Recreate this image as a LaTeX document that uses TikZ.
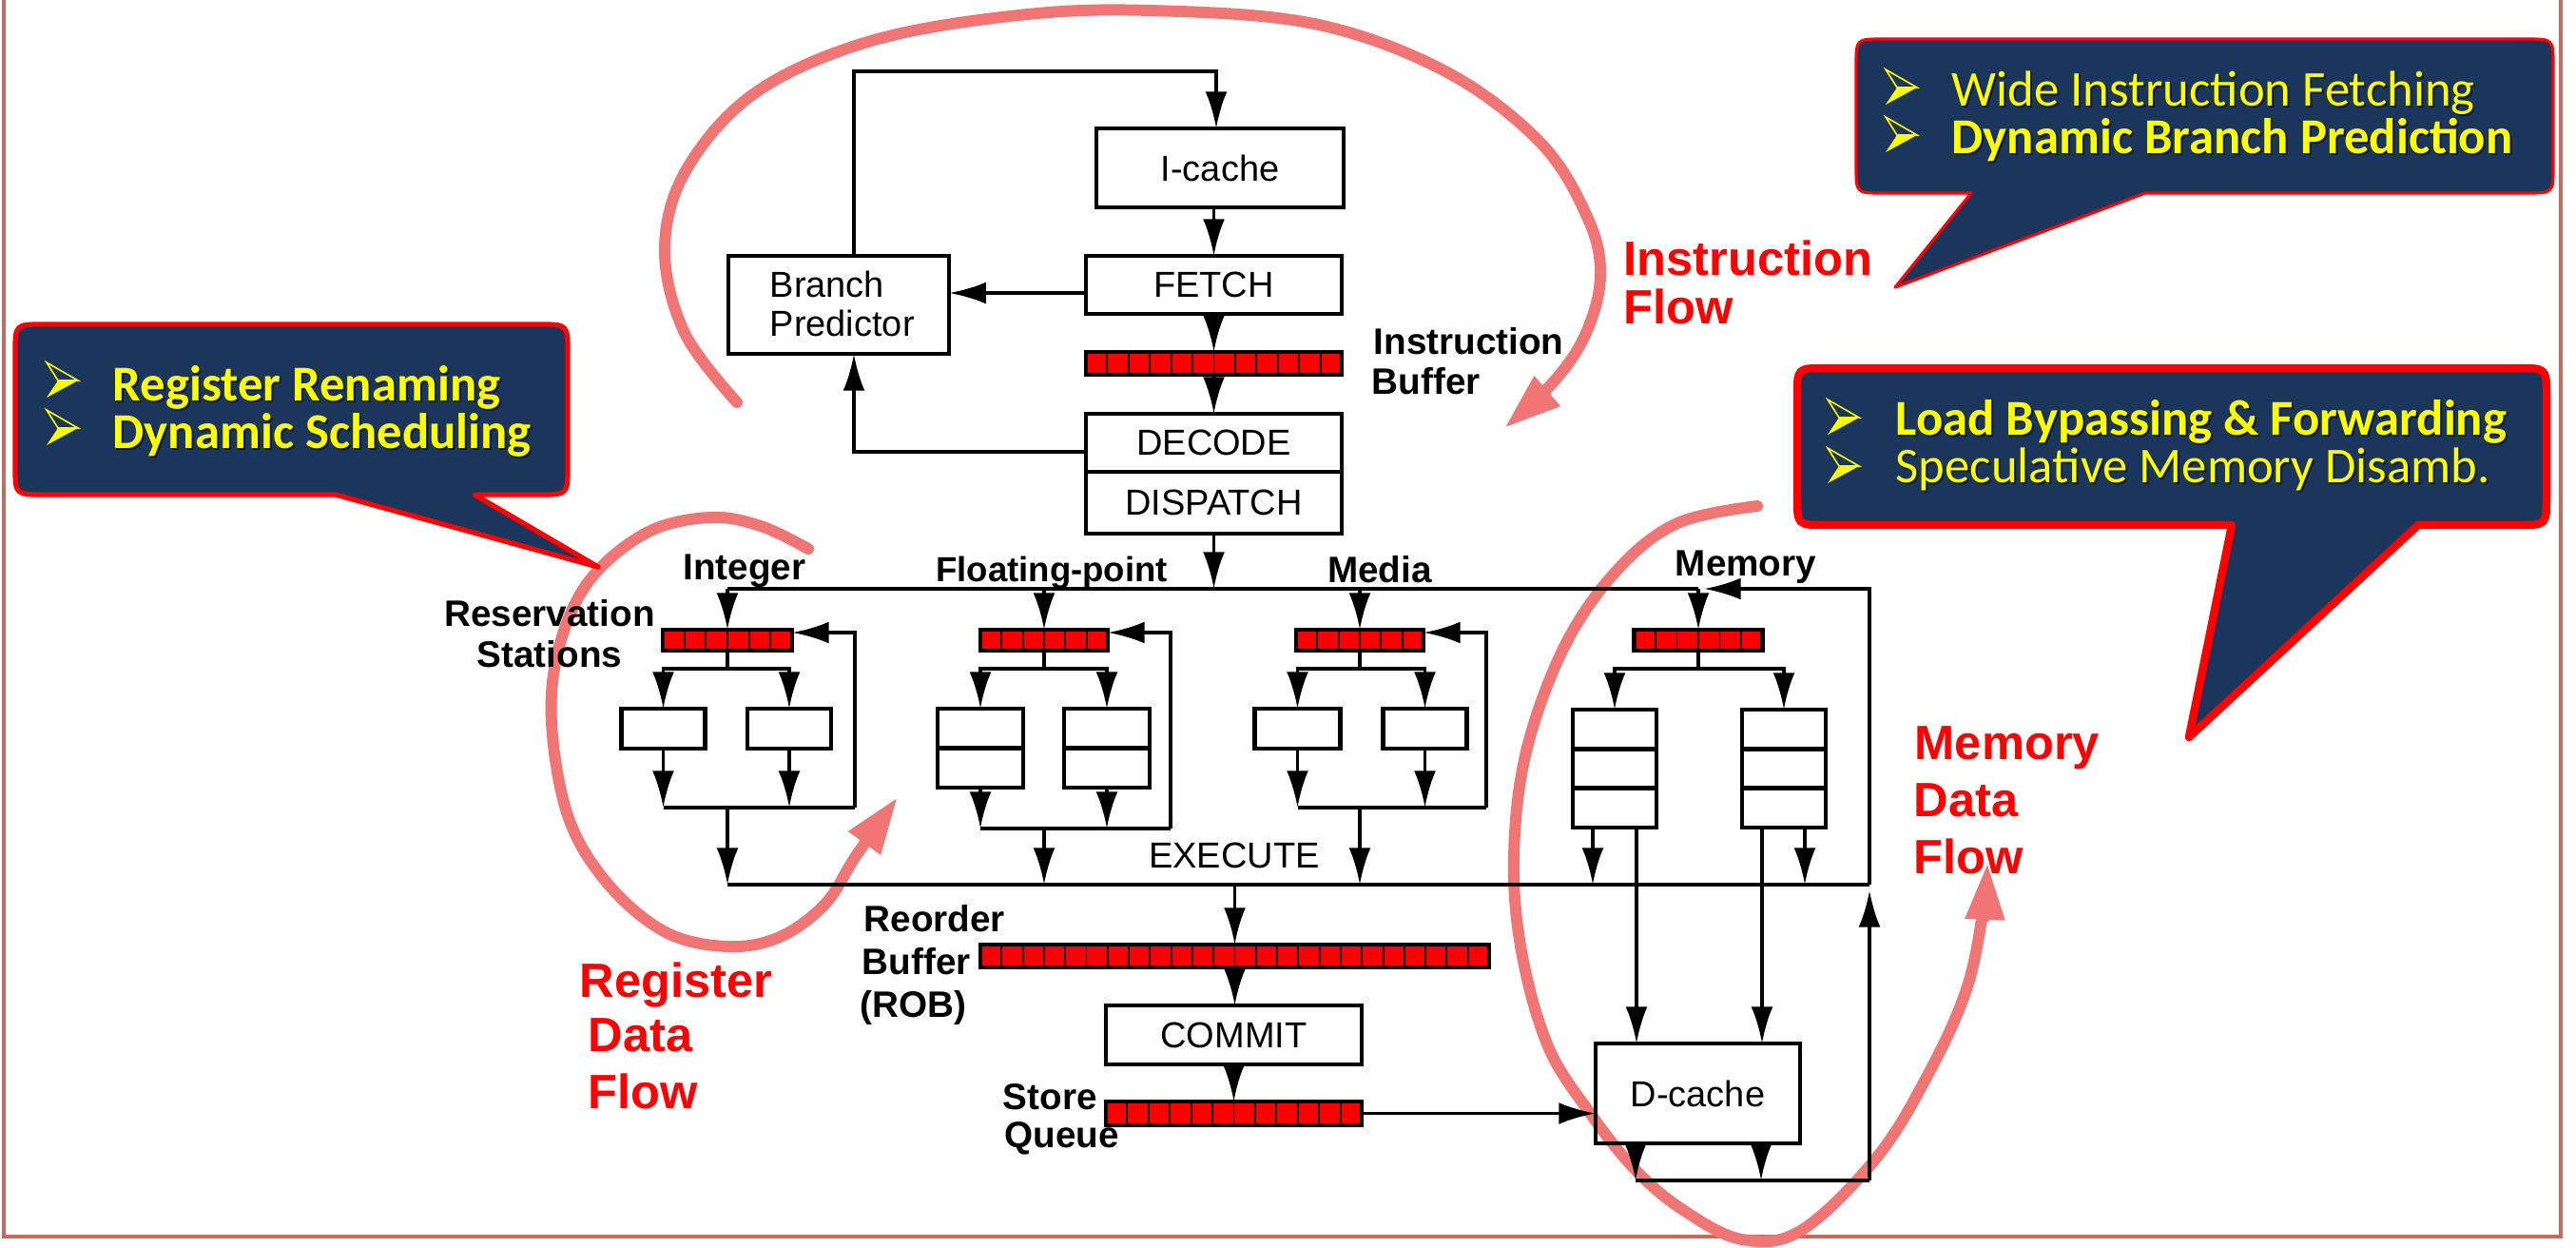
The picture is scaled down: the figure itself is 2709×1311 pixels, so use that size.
\documentclass[tikz,border=0pt]{standalone}
\usepackage{fontspec}
\setmainfont{Liberation Sans}
\newfontfamily\calibri{Carlito}
\usetikzlibrary{arrows.meta,calc}
\definecolor{navy}{RGB}{27,54,93}
\definecolor{calred}{RGB}{255,0,0}
\definecolor{arcpink}{RGB}{240,118,118}
\definecolor{slideb}{RGB}{196,108,98}
\definecolor{cellred}{RGB}{250,0,0}
\definecolor{cyellow}{RGB}{255,255,0}

\newcommand{\cellbuf}[6]{%
  \node[bufbox, minimum width=#4*0.01cm, minimum height=#5*0.01cm] (#1) at (#2,#3) {};
  \foreach \k in {1,...,#6} {
    \draw[line width=0.55pt] ($(#1.north west)!{\k/(#6+1)}!(#1.north east)$) -- ($(#1.south west)!{\k/(#6+1)}!(#1.south east)$);
  }
}
\newcommand{\bul}[2]{%
  \fill[cyellow] ({#1+12},{#2+19}) -- ({#1+33},{#2+19}) -- (#1,{#2+37}) -- cycle;
  \draw[cyellow, line width=0.45pt, line join=miter] ({#1+12},{#2+19}) -- (#1,#2) -- ({#1+33},{#2+19}) -- cycle;
}
\newcommand{\ctxt}[5]{%
  \node[ctext, text=black, opacity=0.55] (#1s) at ({#2+2},{#3+2}) {#4#5};
  \node[ctext] (#1) at (#2,#3) {#4#5};
}

\tikzset{
 box/.style={draw, line width=1.3pt, inner sep=0pt, outer sep=0pt, font=\fontsize{10.8}{13}\selectfont},
 unit/.style={draw, line width=1.3pt, inner sep=0pt, outer sep=0pt},
 bufbox/.style={draw, fill=cellred, line width=1.3pt, inner sep=0pt, outer sep=0pt},
 ln/.style={line width=1.1pt},
 arr/.style={line width=1.1pt, -{Latex[length=11pt,width=6.5pt]}},
 lbl/.style={font=\bfseries\fontsize{11}{13}\selectfont, inner sep=0pt},
 rlbl/.style={font=\fontsize{10.8}{13}\selectfont, inner sep=0pt},
 flbl/.style={text=red, font=\bfseries\fontsize{14.4}{17}\selectfont, inner sep=0pt, anchor=base west},
 flow/.style={draw=arcpink, line width=3.4pt, line cap=round, line join=round, -{Triangle[length=17pt,width=11pt]}},
 ctext/.style={anchor=base west, inner sep=0pt, text=cyellow, font=\calibri\fontsize{15}{17}\selectfont},
}

\begin{document}
\begin{tikzpicture}[x=0.01cm, y=-0.01cm]
\useasboundingbox (0,0) rectangle (2709,1311);

% slide border
\draw[slideb, line width=0.9pt] (4,-20) -- (4,1300) -- (2693,1300) -- (2693,-20);

% ---------- flow arcs (behind) ----------
\draw[flow] plot[smooth, tension=0.6] coordinates {(775,423) (720,350) (699,262) (722,178) (795,97) (916,43) (1071,16) (1209,11) (1382,25) (1520,75) (1620,150) (1670,230) (1683,290) (1668,350) (1635,400) (1582,450)};
\draw[flow] plot[smooth, tension=0.6] coordinates {(850,577) (800,553) (746,544) (680,560) (620,610) (588,680) (580,760) (598,860) (640,930) (700,980) (765,995) (820,985) (868,950) (900,900) (944,838)};
\draw[flow] plot[smooth, tension=0.6] coordinates {(1848,532) (1764,550) (1700,600) (1645,680) (1605,790) (1592,900) (1600,1000) (1628,1100) (1672,1170) (1720,1230) (1770,1272) (1832,1303) (1895,1293) (1975,1215) (2030,1125) (2068,1040) (2085,960) (2090,907)};

% ---------- front end ----------
\node[box, minimum width=2.60cm, minimum height=0.83cm] (icache) at (1283,176.5) {I-cache};
\node[box, minimum width=2.69cm, minimum height=0.61cm] (fetch) at (1276.5,299.5) {FETCH};
\node[box, minimum width=2.32cm, minimum height=1.03cm] (bp) at (882,320.5) {};
\node[rlbl, anchor=base west] (bpt1) at (809,312) {Branch};
\node[rlbl, anchor=base west] (bpt2) at (809,353) {Predictor};
\cellbuf{ibuf}{1276.5}{382}{269}{24}{11}
\node[box, minimum width=2.69cm, minimum height=0.61cm] (decode) at (1276.5,465.5) {DECODE};
\node[box, minimum width=2.69cm, minimum height=0.65cm] (dispatch) at (1276.5,528.5) {DISPATCH};
\node[lbl, anchor=base west] (ibl1) at (1444,372) {Instruction};
\node[lbl, anchor=base west] (ibl2) at (1442,414) {Buffer};

\coordinate (fbL) at (898,75);
\coordinate (fbR) at (1279,75);
\coordinate (fbp) at (0,308);
\coordinate (dbp) at (898,475);
\draw[arr] (bp.north -| fbL) -- (fbL) -- (fbR) -- (icache.north -| fbR);
\draw[arr] (icache.south -| fetch.north) -- (fetch.north);
\draw[arr] (fetch.west |- fbp) -- (bp.east |- fbp);
\draw[arr] (fetch.south) -- (ibuf.north);
\draw[arr] (ibuf.south) -- (decode.north);
\draw[arr] (decode.west |- dbp) -- (dbp) -- (bp.south -| dbp);

% ---------- reservation stations ----------
\coordinate (busT) at (0,619);
\coordinate (busB) at (0,930);
\cellbuf{rsI}{765}{673}{136}{22}{5}
\cellbuf{rsF}{1098}{673}{134}{22}{5}
\cellbuf{rsM}{1430}{673}{134}{22}{5}
\cellbuf{rsY}{1786}{673}{135}{22}{5}

\draw[arr] (dispatch.south) -- (dispatch.south |- busT);
\draw[ln] (rsI.north |- busT) -- (rsY.north |- busT);
\foreach \r in {rsI,rsF,rsM,rsY} { \draw[arr] (\r.north |- busT) -- (\r.north); }

\node[lbl, anchor=base] (lint) at (783,609) {Integer};
\node[lbl, anchor=base, font=\bfseries\fontsize{10.4}{13}\selectfont] (lfp) at (1106,611) {Floating-point};
\node[lbl, anchor=base] (lmed) at (1451,612) {Media};
\node[lbl, anchor=base] (lmem) at (1836,605) {Memory};
\node[lbl, anchor=base] (lres1) at (578,658) {Reservation};
\node[lbl, anchor=base] (lres2) at (578,701) {Stations};

% ---------- functional units ----------
\node[unit, minimum width=0.88cm, minimum height=0.42cm] (uI1) at (697.5,766) {};
\node[unit, minimum width=0.88cm, minimum height=0.42cm] (uI2) at (830,766) {};
\node[unit, minimum width=0.90cm, minimum height=0.83cm] (uF1) at (1031,786.5) {};
\node[unit, minimum width=0.90cm, minimum height=0.83cm] (uF2) at (1164,786.5) {};
\draw[line width=1.3pt] (uF1.west) -- (uF1.east);
\draw[line width=1.3pt] (uF2.west) -- (uF2.east);
\node[unit, minimum width=0.90cm, minimum height=0.42cm] (uM1) at (1364.5,766) {};
\node[unit, minimum width=0.88cm, minimum height=0.42cm] (uM2) at (1498.5,766) {};
\node[unit, minimum width=0.88cm, minimum height=1.24cm] (uY1) at (1698,808) {};
\node[unit, minimum width=0.88cm, minimum height=1.24cm] (uY2) at (1876,808) {};
\foreach \u in {uY1,uY2} {
  \draw[line width=1.3pt] ($(\u.north west)!1/3!(\u.south west)$) -- ($(\u.north east)!1/3!(\u.south east)$);
  \draw[line width=1.3pt] ($(\u.north west)!2/3!(\u.south west)$) -- ($(\u.north east)!2/3!(\u.south east)$);
}

% branches from RS to units
\coordinate (brI) at (765,703);
\coordinate (brF) at (1098,703);
\coordinate (brM) at (1430,703);
\coordinate (brY) at (1786,703);
\draw[ln] (rsI.south) -- (brI);
\draw[arr] (brI) -| (uI1.north);
\draw[arr] (brI) -| (uI2.north);
\draw[ln] (rsF.south) -- (brF);
\draw[arr] (brF) -| (uF1.north);
\draw[arr] (brF) -| (uF2.north);
\draw[ln] (rsM.south) -- (brM);
\draw[arr] (brM) -| (uM1.north);
\draw[arr] (brM) -| (uM2.north);
\draw[ln] (rsY.south) -- (brY);
\draw[arr] (brY) -| (uY1.north);
\draw[arr] (brY) -| (uY2.north);

% outputs and feedback: integer
\coordinate (mI) at (765,849);
\coordinate (fbI) at (899,849);
\coordinate (fbIt) at (899,665);
\draw[arr] (uI1.south) -- (uI1.south |- mI);
\draw[arr] (uI2.south) -- (uI2.south |- mI);
\draw[ln] (uI1.south |- mI) -- (fbI);
\draw[arr] (fbI) -- (fbIt) -- (rsI.east |- fbIt);
\draw[arr] (mI) -- (mI |- busB);
% floating point
\coordinate (mF) at (1098,871);
\coordinate (fbF) at (1231,871);
\coordinate (fbFt) at (1231,665);
\draw[arr] (uF1.south) -- (uF1.south |- mF);
\draw[arr] (uF2.south) -- (uF2.south |- mF);
\draw[ln] (uF1.south |- mF) -- (fbF);
\draw[arr] (fbF) -- (fbFt) -- (rsF.east |- fbFt);
\draw[arr] (mF) -- (mF |- busB);
% media
\coordinate (mM) at (1430,849);
\coordinate (fbM) at (1563,849);
\coordinate (fbMt) at (1563,665);
\draw[arr] (uM1.south) -- (uM1.south |- mM);
\draw[arr] (uM2.south) -- (uM2.south |- mM);
\draw[ln] (uM1.south |- mM) -- (fbM);
\draw[arr] (fbM) -- (fbMt) -- (rsM.east |- fbMt);
\draw[arr] (mM) -- (mM |- busB);

\node[rlbl, anchor=base] (exe) at (1298,912) {EXECUTE};

% ---------- memory ----------
\node[box, minimum width=2.15cm, minimum height=1.05cm] (dcache) at (1785.5,1149.5) {D-cache};
\coordinate (yA) at (1675,930);
\coordinate (yB) at (1721,0);
\coordinate (yC) at (1853,0);
\coordinate (yD) at (1898,930);
\draw[arr] (uY1.south -| yA) -- (yA);
\draw[arr] (uY1.south -| yB) -- (dcache.north -| yB);
\draw[arr] (uY2.south -| yC) -- (dcache.north -| yC);
\draw[arr] (uY2.south -| yD) -- (yD);

\coordinate (busBL) at (765,930);
\coordinate (busBR) at (1966,930);
\coordinate (busTR) at (1966,619);
\coordinate (memfb) at (1792,619);
\draw[ln] (busBL) -- (busBR);
\draw[arr] (busBR) -- (busTR) -- (memfb);

\coordinate (dA) at (1720,1241);
\coordinate (dB) at (1852,1241);
\coordinate (dR) at (1966,1241);
\coordinate (dUp) at (1966,936);
\draw[arr] (dcache.south -| dA) -- (dA);
\draw[arr] (dcache.south -| dB) -- (dB);
\draw[ln] (dA) -- (dR);
\draw[arr] (dR) -- (dUp);

% ---------- retire ----------
\cellbuf{rob}{1298.5}{1005}{535}{24}{23}
\node[box, minimum width=2.69cm, minimum height=0.62cm] (commit) at (1297.5,1088) {COMMIT};
\cellbuf{sq}{1297.5}{1170.5}{269}{25}{11}
\draw[arr] (rob.north |- busB) -- (rob.north);
\draw[arr] (rob.south) -- (rob.south |- commit.north);
\draw[arr] (commit.south) -- (commit.south |- sq.north);
\draw[arr] (sq.east) -- (dcache.west |- sq.east);

\node[lbl, anchor=base west] (lrob1) at (908,979) {Reorder};
\node[lbl, anchor=base west] (lrob2) at (906,1024) {Buffer};
\node[lbl, anchor=base west] (lrob3) at (904,1069) {(ROB)};
\node[lbl, anchor=base west] (lsq1) at (1054,1166) {Store};
\node[lbl, anchor=base west] (lsq2) at (1056,1206) {Queue};

% ---------- red flow labels ----------
\node[flbl] (fi1) at (1707,289) {Instruction};
\node[flbl] (fi2) at (1707,340) {Flow};
\node[flbl] (fr1) at (609,1048) {Register};
\node[flbl] (fr2) at (618,1105) {Data};
\node[flbl] (fr3) at (618,1165) {Flow};
\node[flbl] (fm1) at (2013,798) {Memory};
\node[flbl] (fm2) at (2012,858) {Data};
\node[flbl] (fm3) at (2012,918) {Flow};

% ---------- callouts ----------
\filldraw[fill=navy, draw=calred, line width=0.9pt, line join=round]
  (1980,41) -- (2657,41) .. controls (2685,41) .. (2685,69) -- (2685,175) .. controls (2685,203) .. (2657,203)
  -- (2256,203) -- (1993,302) -- (2073,203) -- (1980,203) .. controls (1952,203) .. (1952,175)
  -- (1952,69) .. controls (1952,41) .. (1980,41) -- cycle;
\filldraw[fill=navy, draw=calred, line width=1.5pt, line join=round]
  (46,341) -- (567,341) .. controls (597,341) .. (597,371) -- (597,490) .. controls (597,520) .. (567,520)
  -- (499,520) -- (629,596) -- (353,520) -- (46,520) .. controls (16,520) .. (16,490)
  -- (16,371) .. controls (16,341) .. (46,341) -- cycle;
\filldraw[fill=navy, draw=calred, line width=2.4pt, line join=round]
  (1920,387) -- (2648,387) .. controls (2678,387) .. (2678,417) -- (2678,522) .. controls (2678,552) .. (2648,552)
  -- (2543,552) -- (2302,775) -- (2347,552) -- (1920,552) .. controls (1890,552) .. (1890,522)
  -- (1890,417) .. controls (1890,387) .. (1920,387) -- cycle;

\bul{1983}{73}
\bul{1983}{123}
\ctxt{c1a}{2052}{111}{}{Wide Instruction Fetching}
\ctxt{c1b}{2052}{161}{\bfseries}{Dynamic Branch Prediction}

\bul{49}{381}
\bul{49}{431}
\ctxt{c2a}{118}{421}{\bfseries}{Register Renaming}
\ctxt{c2b}{118}{471}{\bfseries}{Dynamic Scheduling}

\bul{1922}{420}
\bul{1922}{471}
\ctxt{c3a}{1993}{457}{\bfseries}{Load Bypassing \& Forwarding}
\ctxt{c3b}{1993}{507}{}{Speculative Memory Disamb.}

\end{tikzpicture}
\end{document}
